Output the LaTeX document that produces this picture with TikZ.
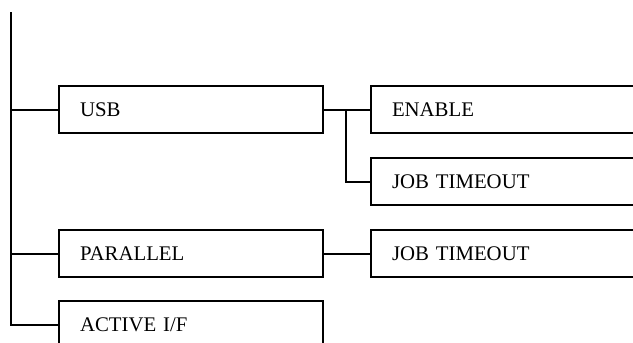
\documentclass[tikz,border=0pt]{standalone}
\usepackage{fontspec}
\setmainfont{Liberation Serif}
\begin{document}
\begin{tikzpicture}[x=1pt,y=-1pt,
  line width=2pt,
  leftbox/.style={draw, rectangle, anchor=north west, minimum height=47pt,
    inner xsep=21pt, inner ysep=0pt, text width=222pt, align=left,
    font=\fontsize{20.8}{24}\selectfont},
  rightbox/.style={leftbox, text width=250pt},
  conn/.style={line width=2pt}]
\useasboundingbox (0,0) rectangle (633,343);
\clip (0,0) rectangle (633,343);
\node[leftbox] (usb) at (58,85) {USB};
\node[leftbox] (par) at (58,229) {PARALLEL};
\node[leftbox] (act) at (58,300) {ACTIVE I/F};
\node[rightbox] (en) at (370,85) {ENABLE};
\node[rightbox] (jt1) at (370,157) {JOB TIMEOUT};
\node[rightbox] (jt2) at (370,229) {JOB TIMEOUT};
\coordinate (top) at (10.5,12);
\coordinate (j) at (346,0);
\draw[conn] (top) |- (act.west);
\draw[conn] (top |- usb.west) -- (usb.west);
\draw[conn] (top |- par.west) -- (par.west);
\draw[conn] (usb.east) -- (en.west);
\draw[conn] (j |- usb.east) |- (jt1.west);
\draw[conn] (par.east) -- (jt2.west);
\end{tikzpicture}
\end{document}
